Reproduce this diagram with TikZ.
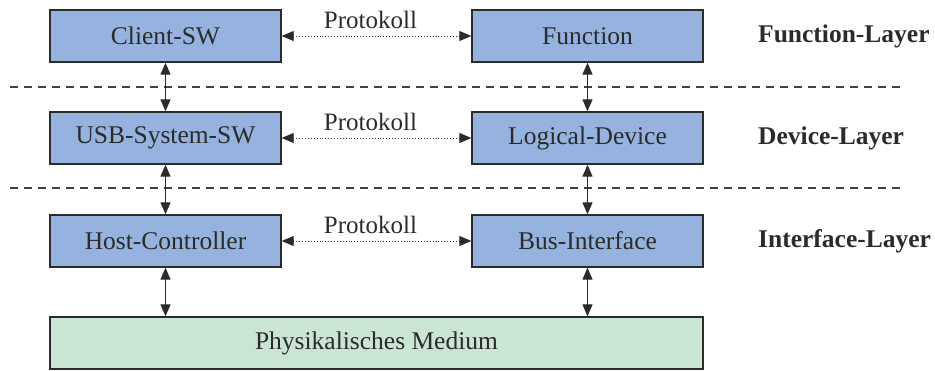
\documentclass[tikz,border=0pt]{standalone}
\usepackage{fontspec}
\setmainfont{Liberation Serif}
\usetikzlibrary{arrows.meta}
\definecolor{boxblue}{HTML}{95B3DE}
\definecolor{boxgreen}{HTML}{CBE5D4}
\definecolor{edge}{HTML}{2B2B2B}
\tikzset{
  layerbox/.style={draw=edge, line width=1.4pt, fill=boxblue, minimum width=231pt,
    minimum height=52pt, inner sep=0pt, font=\fontsize{25.5}{29}\selectfont, text=edge},
  mediumbox/.style={layerbox, fill=boxgreen, minimum width=653pt},
  proto/.style={dotted, line width=0.9pt, draw=edge, {Triangle[length=12pt,width=10pt]}-{Triangle[length=12pt,width=10pt]}},
  link/.style={line width=1.3pt, draw=edge, {Triangle[length=12pt,width=10pt]}-{Triangle[length=12pt,width=10pt]}},
  separator/.style={dash pattern=on 8pt off 6pt, line width=1.2pt, draw=edge!90},
  layername/.style={anchor=west, font=\bfseries\fontsize{25.5}{29}\selectfont, text=edge, inner sep=0pt},
  protolabel/.style={font=\fontsize{25}{29}\selectfont, text=edge, inner sep=0pt}
}
\begin{document}
\begin{tikzpicture}[x=1pt, y=-1pt]
\useasboundingbox (0,0) rectangle (935,370);

% separators between the layers
\coordinate (s1a) at (10,87);  \coordinate (s1b) at (905,87);
\coordinate (s2a) at (10,188); \coordinate (s2b) at (905,188);
\draw[separator] (s1a) -- (s1b);
\draw[separator] (s2a) -- (s2b);

% host side
\node[layerbox] (client) at (165.5,36) {Client-SW};
\node[layerbox] (usbsw)  at (165.5,138) {USB-System-SW};
\node[layerbox] (hostc)  at (165.5,241) {Host-Controller};

% device side
\node[layerbox] (func)   at (587.5,36) {Function};
\node[layerbox] (logdev) at (587.5,138) {Logical-Device};
\node[layerbox] (busif)  at (587.5,241) {Bus-Interface};

% physical medium
\node[mediumbox] (medium) at (376.5,343) {Physikalisches Medium};

% protocol connections
\draw[proto] (client.east) -- node[protolabel, above=7pt, xshift=-6pt] (p1) {Protokoll} (func.west);
\draw[proto] (usbsw.east) -- node[protolabel, above=7pt, xshift=-6pt] (p2) {Protokoll} (logdev.west);
\draw[proto] (hostc.east) -- node[protolabel, above=7pt, xshift=-6pt] (p3) {Protokoll} (busif.west);

% vertical links
\draw[link] (client.south) -- (usbsw.north);
\draw[link] (usbsw.south) -- (hostc.north);
\draw[link] (func.south) -- (logdev.north);
\draw[link] (logdev.south) -- (busif.north);
\draw[link] (hostc.south) -- (hostc.south |- medium.north);
\draw[link] (busif.south) -- (busif.south |- medium.north);

% layer names
\node[layername] (l1) at (758,36) {Function-Layer};
\node[layername] (l2) at (758,138) {Device-Layer};
\node[layername] (l3) at (758,241) {Interface-Layer};
\end{tikzpicture}
\end{document}
